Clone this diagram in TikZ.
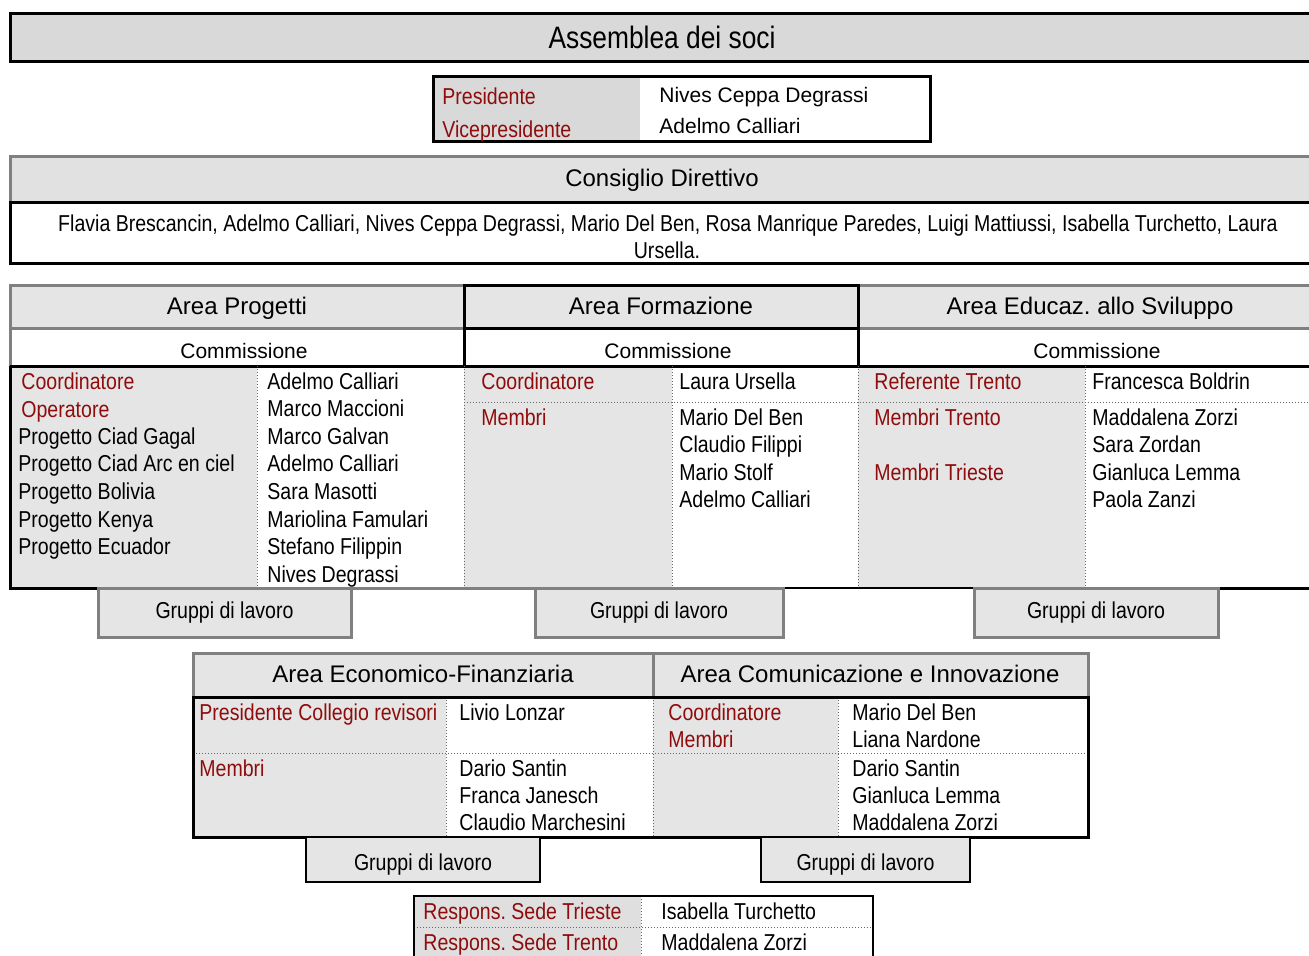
\documentclass[tikz,border=0pt]{standalone}
\usepackage{fontspec}
\setmainfont{Liberation Sans}
\newfontfamily\narrowfont{Liberation Sans}[FakeStretch=0.85]
\usepackage{tikz}
\usetikzlibrary{positioning}
\definecolor{redlbl}{RGB}{142,12,12}
\definecolor{cellgray}{RGB}{229,229,229}
\definecolor{headgray}{RGB}{217,217,217}
\definecolor{rulegray}{RGB}{128,128,128}

\begin{document}
\begin{tikzpicture}[x=0.5pt,y=-0.5pt,every node/.style={inner sep=0pt},
          areatxt/.style={font=\fontsize{12}{14}\selectfont,anchor=base},
          subtxt/.style={font=\fontsize{10.5}{12}\selectfont,anchor=base},
          nametxt/.style={font=\narrowfont\fontsize{11.5}{13}\selectfont,anchor=base west},
          roletxt/.style={nametxt,text=redlbl},
          graybox/.style={draw=rulegray,line width=1.5pt,fill=cellgray},
          dotrule/.style={densely dotted,line width=0.5pt,draw=black!60}]
        \clip (0,0) rectangle (1309,955);
        % assemblea e presidenza
        \draw[fill=headgray,line width=1.5pt] (10,13) rectangle (1330,61);
        \node[font=\narrowfont\fontsize{15.5}{18}\selectfont,anchor=base] (assemblea) at (662,48) {Assemblea dei soci};
        \fill[headgray] (433,76) rectangle (640,141);
        \draw[line width=1.5pt] (433,76) rectangle (930,141);
        \node[roletxt] (pres) at (442,104) {Presidente};
        \node[roletxt] (vice) at (442,137.5) {Vicepresidente};
        \node[subtxt,anchor=base west] (pres-nm) at (659,102) {Nives Ceppa Degrassi};
        \node[subtxt,anchor=base west] (vice-nm) at (659,133) {Adelmo Calliari};
        % consiglio direttivo
        \draw[graybox,fill=cellgray!70!headgray] (10,156) rectangle (1330,202);
        \draw[line width=1.5pt] (1330,202) -- (10,202) -- (10,263) -- (1330,263);
        \node[areatxt] (consiglio) at (662,186.5) {Consiglio Direttivo};
        \node[nametxt,anchor=base] (cd1) at (668,231)
          {Flavia Brescancin, Adelmo Calliari, Nives Ceppa Degrassi, Mario Del Ben, Rosa Manrique Paredes, Luigi Mattiussi, Isabella Turchetto, Laura};
        \node[nametxt,anchor=base] (cd2) at (667,258) {Ursella.};
        % tre aree
        \foreach \a/\b in {10/257,464/672,858/1085}
          \fill[cellgray] (\a,366) rectangle (\b,588);
        \draw[graybox] (10,285) rectangle (464,328);
        \draw[graybox] (858,285) rectangle (1330,328);
        \draw[fill=cellgray,line width=1.5pt] (464,285) rectangle (858,328);
        \draw[rulegray,line width=1.5pt] (10,328) -- (10,366);
        \draw[line width=1.5pt] (464,328) rectangle (858,366);
        \draw[line width=1.5pt] (10,366) -- (1330,366);
        \foreach \x in {257,464,672,858,1085}
          \draw[dotrule] (\x,366) -- (\x,588);
        \draw[dotrule] (464,402) -- (1330,402);
        \draw[line width=1.5pt] (10,366) -- (10,588) -- (98,588);
        \draw[rulegray,line width=1.5pt] (351,588) -- (535,588);
        \draw[line width=1pt] (783,588) -- (974,588);
        \draw[line width=1.5pt] (1218,588) -- (1330,588);
        \draw[graybox] (98,588) rectangle (351,637);
        \draw[graybox] (535,588) rectangle (783,637);
        \draw[graybox] (974,588) rectangle (1218,637);
        \node[areatxt] (area-prog) at (237,314) {Area Progetti};
        \node[areatxt] (area-form) at (661,314) {Area Formazione};
        \node[areatxt] (area-edu) at (1090,314) {Area Educaz.\ allo Sviluppo};
        \foreach \x/\n in {244/prog,668/form,1097/edu}
          \node[subtxt] (comm-\n) at (\x,358) {Commissione};
        % area progetti
        \node[roletxt] (prog-coord) at (21,389) {Coordinatore};
        \node[roletxt] (prog-oper) at (21,417) {Operatore};
        \foreach \t [count=\i from 3] in {Progetto Ciad Gagal,Progetto Ciad Arc en ciel,Progetto Bolivia,Progetto Kenya,Progetto Ecuador}
          \node[nametxt] (prog-p\i) at (18,{389+27.63*(\i-1)}) {\t};
        \foreach \t [count=\i] in {Adelmo Calliari,Marco Maccioni,Marco Galvan,Adelmo Calliari,Sara Masotti,Mariolina Famulari,Stefano Filippin,Nives Degrassi}
          \node[nametxt] (prog-nm\i) at (267,{389+27.63*(\i-1)}) {\t};
        % area formazione
        \node[roletxt] (form-coord) at (481,389) {Coordinatore};
        \node[roletxt] (form-memb) at (481,425) {Membri};
        \node[nametxt] (form-nm0) at (679,389) {Laura Ursella};
        \foreach \t [count=\i] in {Mario Del Ben,Claudio Filippi,Mario Stolf,Adelmo Calliari}
          \node[nametxt] (form-nm\i) at (679,{425+27.6*(\i-1)}) {\t};
        % area educazione allo sviluppo
        \node[roletxt] (edu-ref) at (874,389) {Referente Trento};
        \node[roletxt] (edu-tn) at (874,425) {Membri Trento};
        \node[roletxt] (edu-ts) at (874,480) {Membri Trieste};
        \node[nametxt] (edu-nm0) at (1092,389) {Francesca Boldrin};
        \foreach \t [count=\i] in {Maddalena Zorzi,Sara Zordan,Gianluca Lemma,Paola Zanzi}
          \node[nametxt] (edu-nm\i) at (1092,{425+27.6*(\i-1)}) {\t};
        % aree economica e comunicazione
        \fill[cellgray] (193,697) rectangle (446,837);
        \fill[cellgray] (653,697) rectangle (838,837);
        \draw[graybox] (193,653) rectangle (653,697);
        \draw[graybox] (653,653) rectangle (1088,697);
        \foreach \x in {446,653,838}
          \draw[dotrule] (\x,697) -- (\x,837);
        \draw[dotrule] (193,753) -- (1088,753);
        \draw[line width=1.5pt] (193,697) rectangle (1088,837);
        \draw[fill=cellgray,line width=1pt] (306,837) rectangle (540,882);
        \draw[fill=cellgray,line width=1pt] (761,837) rectangle (970,882);
        \node[areatxt] (area-eco) at (423,682) {Area Economico-Finanziaria};
        \node[areatxt] (area-com) at (870,682) {Area Comunicazione e Innovazione};
        \node[roletxt] (eco-pres) at (199,720) {Presidente Collegio revisori};
        \node[roletxt] (eco-memb) at (199,776) {Membri};
        \node[nametxt] (eco-nm0) at (459,720) {Livio Lonzar};
        \foreach \t [count=\i] in {Dario Santin,Franca Janesch,Claudio Marchesini}
          \node[nametxt] (eco-nm\i) at (459,{776+27.3*(\i-1)}) {\t};
        \node[roletxt] (com-coord) at (668,720) {Coordinatore};
        \node[roletxt] (com-memb) at (668,747.3) {Membri};
        \foreach \t/\y [count=\i] in {Mario Del Ben/720,Liana Nardone/747.3,Dario Santin/776,Gianluca Lemma/803.3,Maddalena Zorzi/830.7}
          \node[nametxt] (com-nm\i) at (852,\y) {\t};
        \foreach \x/\y/\n in {224.5/618/g1,659/618/g2,1096/618/g3,423/870/g4,865.5/870/g5}
          \node[nametxt,anchor=base] (\n) at (\x,\y) {Gruppi di lavoro};
        % sedi
        \fill[headgray!50!cellgray] (414,896) rectangle (641,965);
        \draw[dotrule] (641,896) -- (641,965);
        \draw[dotrule] (414,927) -- (873,927);
        \draw[line width=1pt] (414,965) -- (414,896) -- (873,896) -- (873,965);
        \node[roletxt] (sede-ts) at (423,919.3) {Respons.\ Sede Trieste};
        \node[roletxt] (sede-tn) at (423,950) {Respons.\ Sede Trento};
        \node[nametxt] (sede-ts-nm) at (661,919.3) {Isabella Turchetto};
        \node[nametxt] (sede-tn-nm) at (661,950) {Maddalena Zorzi};
      \end{tikzpicture}
\end{document}
